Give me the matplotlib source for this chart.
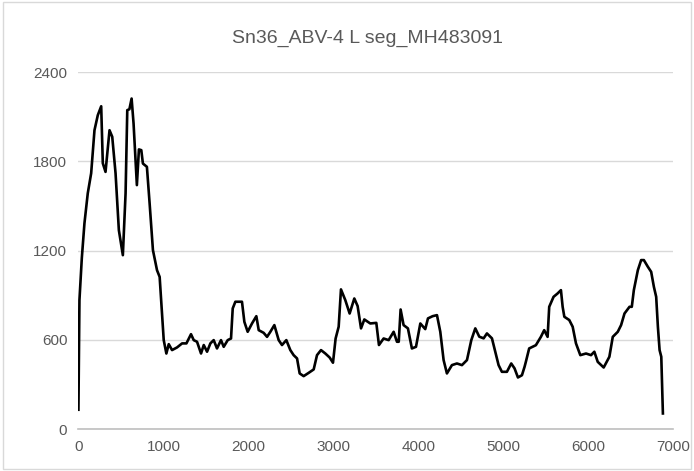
import numpy as np
import matplotlib.pyplot as plt
from matplotlib.patches import Rectangle

plt.rcParams['font.family'] = ['Liberation Sans', 'DejaVu Sans']

title = 'Sn36_ABV-4 L seg_MH483091'

# position along segment and coverage depth
pos = [0, 12, 40, 71, 110, 150, 189, 228, 268, 287, 319, 366, 398, 437, 476,
       523, 555, 575, 600, 626, 649, 688, 712, 740, 759, 806, 838, 877, 925,
       956, 1004, 1035, 1063, 1102, 1161, 1220, 1271, 1325, 1357, 1396, 1443,
       1475, 1514, 1553, 1592, 1631, 1678, 1710, 1757, 1796, 1816, 1847, 1925,
       1953, 1992, 2043, 2094, 2122, 2180, 2220, 2259, 2306, 2357, 2396, 2447,
       2494, 2533, 2573, 2604, 2651, 2710, 2769, 2808, 2855, 2906, 2957, 2996,
       3027, 3063, 3090, 3141, 3192, 3247, 3286, 3326, 3365, 3435, 3506, 3537,
       3592, 3651, 3710, 3749, 3770, 3792, 3827, 3878, 3925, 3973, 4024, 4082,
       4114, 4169, 4220, 4259, 4298, 4337, 4396, 4455, 4514, 4573, 4624, 4671,
       4718, 4769, 4808, 4867, 4906, 4945, 4984, 5043, 5094, 5133, 5173, 5220,
       5251, 5266, 5305, 5384, 5443, 5482, 5522, 5541, 5592, 5640, 5679, 5699,
       5719, 5777, 5817, 5856, 5907, 5974, 6033, 6072, 6112, 6182, 6249, 6289,
       6348, 6387, 6427, 6486, 6513, 6537, 6553, 6584, 6623, 6655, 6702, 6741,
       6773, 6800, 6820, 6840, 6860, 6879]
depth = [130, 867, 1150, 1384, 1585, 1720, 2009, 2110, 2170, 1787, 1729, 2009,
         1965, 1720, 1337, 1169, 1585, 2144, 2150, 2222, 2054, 1640, 1880, 1875,
         1785, 1763, 1517, 1203, 1068, 1023, 598, 508, 571, 531, 549, 576, 576,
         638, 598, 587, 508, 565, 520, 576, 598, 542, 598, 553, 598, 609, 811,
         856, 856, 721, 654, 710, 759, 665, 647, 620, 654, 699, 598, 565, 598,
         531, 497, 475, 374, 356, 378, 401, 497, 531, 508, 481, 446, 609, 688,
         939, 867, 777, 878, 827, 677, 737, 710, 714, 565, 609, 598, 654, 587,
         587, 804, 699, 677, 542, 553, 710, 672, 744, 759, 766, 654, 464, 374,
         430, 441, 430, 464, 598, 677, 621, 610, 643, 610, 520, 430, 385, 385,
         441, 408, 347, 362, 419, 452, 542, 564, 620, 665, 620, 822, 889, 912,
         934, 822, 755, 733, 688, 576, 497, 508, 497, 520, 452, 414, 486, 620,
         654, 699, 777, 822, 822, 934, 979, 1068, 1136, 1136, 1091, 1057, 956,
         889, 688, 531, 486, 105]

xticks = [0, 1000, 2000, 3000, 4000, 5000, 6000, 7000]
yticks = [0, 600, 1200, 1800, 2400]

fig = plt.figure(figsize=(6.94, 4.71), dpi=100)
ax = fig.add_axes([0.113, 0.089, 0.857, 0.758])

ax.plot(pos, depth, color='black', lw=1.9, solid_joinstyle='round')

ax.set_xlim(0, 7000)
ax.set_ylim(0, 2400)
ax.set_xticks(xticks)
ax.set_yticks(yticks)
ax.tick_params(length=0, labelsize=11, colors='#595959', pad=8)
ax.grid(axis='y', color='#D9D9D9', lw=1)
ax.set_axisbelow(True)
for s in ['top', 'right', 'left']:
    ax.spines[s].set_visible(False)
ax.spines['bottom'].set_color('#BFBFBF')
ax.spines['bottom'].set_linewidth(1.2)

fig.text(0.53, 0.918, title, ha='center', va='center', fontsize=14, color='#595959')

# light chart-area border like the spreadsheet export
fig.patches.append(Rectangle((0.004, 0.004), 0.992, 0.992, transform=fig.transFigure,
                             fill=False, edgecolor='#D9D9D9', lw=1))

fig.savefig('out.png', dpi=100)
